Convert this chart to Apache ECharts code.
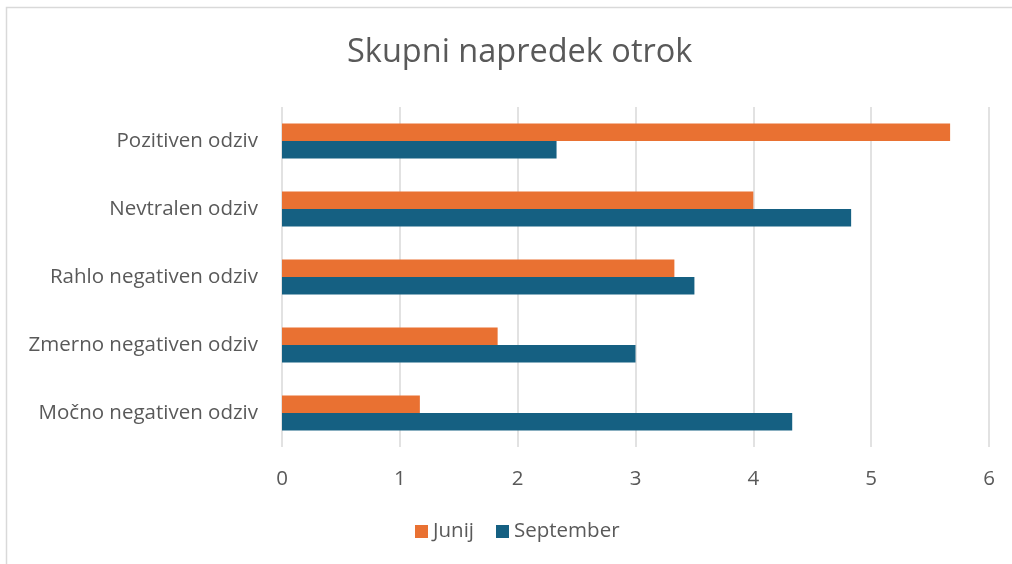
<!DOCTYPE html>
<html>
<head>
<meta charset="utf-8">
<script src="https://cdn.jsdelivr.net/npm/echarts@6/dist/echarts.min.js"></script>
<style>
  html, body { margin: 0; padding: 0; background: #fff; }
  #chart { width: 1012px; height: 564px; }
</style>
</head>
<body>
<div id="chart"></div>
<script>
// categories bottom to top, as the axis draws them
const categories = [
  "Močno negativen odziv",
  "Zmerno negativen odziv",
  "Rahlo negativen odziv",
  "Nevtralen odziv",
  "Pozitiven odziv",
];
const junij = [1.17, 1.83, 3.33, 4.0, 5.67];
const september = [4.33, 3.0, 3.5, 4.83, 2.33];

const font = "'Open Sans', 'Noto Sans', sans-serif";
const textColor = "#595959";

const chart = echarts.init(document.getElementById("chart"));

chart.setOption({
  animation: false,
  title: {
    text: "Skupni napredek otrok",
    left: 342,
    top: 31,
    textStyle: {
      fontFamily: font,
      fontSize: 32.5,
      fontWeight: "normal",
      color: textColor,
    },
  },
  legend: {
    bottom: 17,
    left: 410,
    itemWidth: 13,
    itemHeight: 13,
    itemGap: 22,
    icon: "rect",
    textStyle: { fontFamily: font, fontSize: 20.5, color: textColor },
    data: ["Junij", "September"],
  },
  grid: { left: 282, right: 23, top: 107, bottom: 117 },
  xAxis: {
    type: "value",
    min: 0,
    max: 6,
    interval: 1,
    axisLine: { show: false },
    axisTick: { show: false },
    axisLabel: { margin: 22, fontFamily: font, fontSize: 20.5, color: textColor },
    splitLine: { lineStyle: { color: "#d9d9d9", width: 1.5 } },
  },
  yAxis: {
    type: "category",
    data: categories,
    axisLine: { show: false },
    axisTick: { show: false },
    axisLabel: { margin: 24, fontFamily: font, fontSize: 20.5, color: textColor },
  },
  series: [
    {
      name: "Junij",
      type: "bar",
      data: junij,
      barWidth: 17.5,
      barGap: "0%",
      itemStyle: { color: "#E97132" },
    },
    {
      name: "September",
      type: "bar",
      data: september,
      barWidth: 17.5,
      itemStyle: { color: "#156082" },
    },
  ],
  graphic: [
    {
      type: "rect",
      shape: { x: 6.5, y: 7.5, width: 1100, height: 700 },
      style: { fill: "none", stroke: "#d9d9d9", lineWidth: 1.5 },
      silent: true,
    },
  ],
});

window.addEventListener("resize", () => {
  chart.resize();
});
</script>
</body>
</html>
